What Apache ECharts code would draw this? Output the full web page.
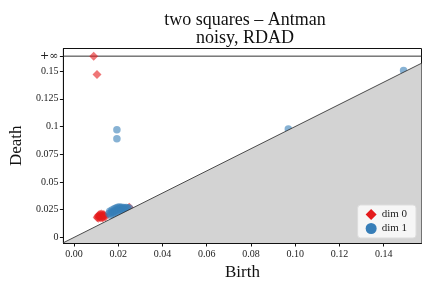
<!DOCTYPE html>
<html>
<head>
<meta charset="utf-8">
<script src="https://cdn.jsdelivr.net/npm/echarts@6/dist/echarts.min.js"></script>
<style>html,body{margin:0;padding:0;background:#fff}#c{width:432px;height:288px}</style>
</head>
<body>
<div id="c"></div>
<script>
// ---- data ----
const INF = 0.1635;
const xRange = [-0.00478, 0.1571];
const yRange = [-0.00504, 0.1704];
const xTicks = [0, 0.02, 0.04, 0.06, 0.08, 0.10, 0.12, 0.14];
const yTicks = [0, 0.025, 0.05, 0.075, 0.1, 0.125, 0.15, INF];
const yTickLabels = ['0', '0.025', '0.05', '0.075', '0.1', '0.125', '0.15', '+\u221e'];
const dim0 = [
  [0.0089, INF], [0.0104, 0.147],
  [0.0108, 0.0190], [0.0112, 0.0202], [0.0115, 0.0185], [0.0118, 0.0208],
  [0.0120, 0.0178], [0.0122, 0.0195], [0.0125, 0.0212], [0.0127, 0.0188],
  [0.0130, 0.0202], [0.0132, 0.0182], [0.0135, 0.0207], [0.0138, 0.0195],
  [0.0110, 0.0172], [0.0128, 0.0174], [0.0142, 0.0185], [0.0105, 0.0180],
  [0.0250, 0.0272]
];
const dim1 = [
  [0.0194, 0.0972], [0.0194, 0.0891], [0.0969, 0.0978], [0.1490, 0.1505],
  [0.0158, 0.0215], [0.0162, 0.0235], [0.0168, 0.0225], [0.0172, 0.0248],
  [0.0178, 0.0232], [0.0182, 0.0258], [0.0186, 0.0240], [0.0190, 0.0265],
  [0.0194, 0.0250], [0.0198, 0.0272], [0.0202, 0.0255], [0.0206, 0.0275],
  [0.0210, 0.0262], [0.0215, 0.0272], [0.0220, 0.0258], [0.0225, 0.0270],
  [0.0230, 0.0262], [0.0236, 0.0270], [0.0242, 0.0265], [0.0250, 0.0266],
  [0.0165, 0.0200], [0.0175, 0.0210], [0.0185, 0.0220], [0.0195, 0.0228],
  [0.0205, 0.0235], [0.0215, 0.0240], [0.0225, 0.0245]
];
const diagonal = [[xRange[0], xRange[0]], [xRange[1], xRange[1]]];
const infLine = [[xRange[0], INF], [xRange[1], INF]];

const serif = "'Liberation Serif', 'DejaVu Serif', serif";
const chart = echarts.init(document.getElementById('c'), null, {renderer: 'canvas'});
chart.setOption({
  animation: false,
  backgroundColor: '#fff',
  title: {
    text: 'two squares \u2013 Antman\nnoisy, RDAD',
    left: 240, top: 6, textAlign: 'center',
    textStyle: {fontFamily: serif, fontSize: 18, fontWeight: 'normal', color: '#111', lineHeight: 18}
  },
  grid: {left: 59, right: 10.5, top: 48.5, bottom: 45, show: true, borderColor: '#111', borderWidth: 1, backgroundColor: 'transparent'},
  xAxis: {
    type: 'value', min: xRange[0], max: xRange[1],
    name: 'Birth', nameLocation: 'middle', nameGap: 20,
    nameTextStyle: {fontFamily: serif, fontSize: 17, color: '#111'},
    axisLine: {show: true, onZero: false, lineStyle: {color: '#111'}},
    axisTick: {show: true, length: 3.5, customValues: xTicks, lineStyle: {color: '#111'}},
    axisLabel: {customValues: xTicks, margin: 6, fontFamily: serif, fontSize: 10, color: '#222',
      formatter: v => v.toFixed(2)},
    splitLine: {show: false}
  },
  yAxis: {
    type: 'value', min: yRange[0], max: yRange[1],
    name: 'Death', nameLocation: 'middle', nameGap: 35, nameRotate: 90,
    nameTextStyle: {fontFamily: serif, fontSize: 17, color: '#111'},
    axisLine: {show: true, onZero: false, lineStyle: {color: '#111'}},
    axisTick: {show: true, length: 3.5, customValues: yTicks, lineStyle: {color: '#111'}},
    axisLabel: {customValues: yTicks, margin: 5, fontFamily: serif, fontSize: 10, color: '#222',
      formatter: v => { const i = yTicks.findIndex(t => Math.abs(t - v) < 1e-9);
        if (i < 0) return ''; return i === yTicks.length - 1 ? '{inf|' + yTickLabels[i] + '}' : yTickLabels[i]; },
      rich: {inf: {fontFamily: "'DejaVu Serif', serif", fontSize: 11, color: '#222'}}},
    splitLine: {show: false}
  },
  legend: {
    orient: 'vertical', right: 16, bottom: 50,
    data: [
      {name: 'dim 0', icon: 'diamond', itemStyle: {color: '#e41a1c', opacity: 1}},
      {name: 'dim 1', icon: 'circle', itemStyle: {color: '#377eb8', opacity: 1}}
    ],
    itemWidth: 11, itemHeight: 11, itemGap: 3,
    padding: [4, 9, 4, 8],
    backgroundColor: 'rgba(255,255,255,0.8)', borderColor: '#ddd', borderWidth: 1, borderRadius: 3,
    textStyle: {fontFamily: serif, fontSize: 11, color: '#222'}
  },
  series: [
    {name: 'inf', type: 'line', data: infLine, symbol: 'none', silent: true,
      lineStyle: {color: '#333', width: 1}, z: 1},
    {name: 'dim 0', type: 'scatter', data: dim0, symbol: 'diamond', symbolSize: 9,
      itemStyle: {color: '#e41a1c', opacity: 0.6}, z: 2},
    {name: 'dim 1', type: 'scatter', data: dim1, symbol: 'circle', symbolSize: 7.5,
      itemStyle: {color: '#377eb8', opacity: 0.6}, z: 2},
    {name: 'diag', type: 'line', data: diagonal, symbol: 'none', silent: true,
      lineStyle: {color: '#222', width: 0.8},
      areaStyle: {color: '#d3d3d3', opacity: 1, origin: 'start'}, z: 3}
  ]
});
</script>
</body>
</html>
